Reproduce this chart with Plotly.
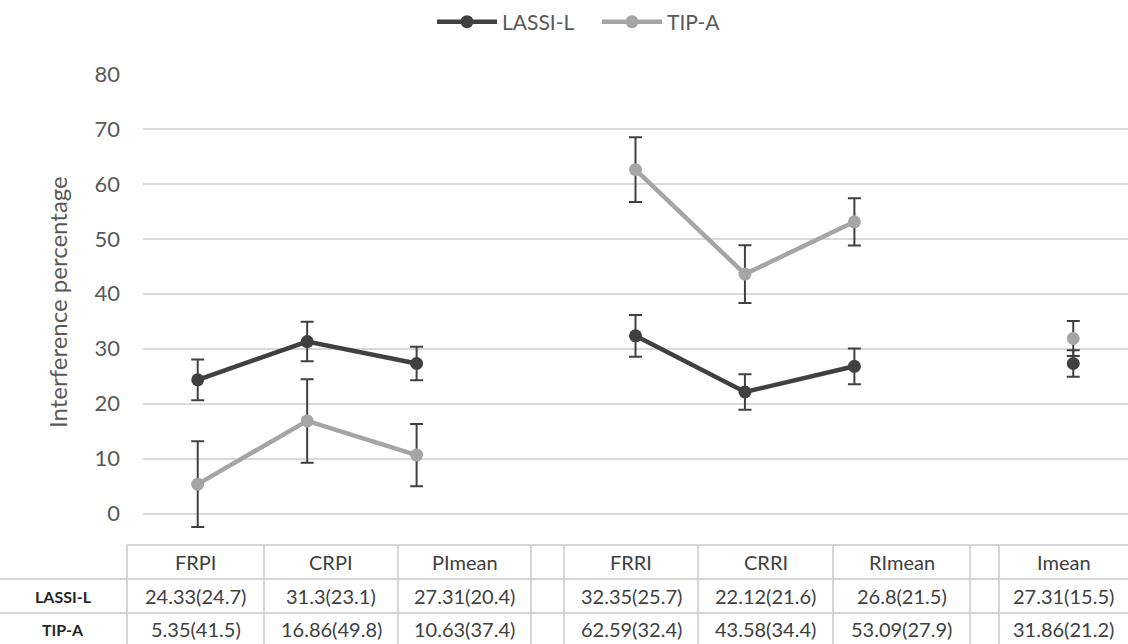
import plotly.graph_objects as go

# ---------------- data ----------------
categories = ["FRPI", "CRPI", "PImean", " ", "FRRI", "CRRI", "RImean", "  ", "Imean"]
series_names = ["LASSI-L", "TIP-A"]
lassi_mean = [24.33, 31.3, 27.31, None, 32.35, 22.12, 26.8, None, 27.31]
lassi_sd = [24.7, 23.1, 20.4, None, 25.7, 21.6, 21.5, None, 15.5]
lassi_err = [3.7, 3.6, 3.05, None, 3.8, 3.25, 3.25, None, 2.4]
tip_mean = [5.35, 16.86, 10.63, None, 62.59, 43.58, 53.09, None, 31.86]
tip_sd = [41.5, 49.8, 37.4, None, 32.4, 34.4, 27.9, None, 21.2]
tip_err = [7.8, 7.6, 5.65, None, 5.9, 5.25, 4.3, None, 3.2]
y_ticks = [0, 10, 20, 30, 40, 50, 60, 70, 80]
y_title = "Interference percentage"

# ---------------- layout constants ----------------
W, H = 1128, 644
L, R, T, B = 143, 1128, 74, 530   # plot area in pixels
PW, PH = R - L, B - T
FONT = "Lato"
DARK = "#404040"
GRAY = "#a5a5a5"
GRID = "#d9d9d9"
TABLE_LINE = "#c8c8c8"
TEXT = "#595959"

table_edges = [127, 264, 398, 531, 564, 698, 833, 970, 999, 1128]
table_rows_y = [545, 579, 613, 644]
row_text_y = [562, 596, 629]
row_label_x = 63


def px_x(px):
    return (px - L) / PW


def px_y(py):
    return (B - py) / PH


def fmt(m, s):
    if m is None:
        return ""
    return f"{m:g}({s:g})"


fig = go.Figure()

for name, ys, errs, color in [
    (series_names[0], lassi_mean, lassi_err, DARK),
    (series_names[1], tip_mean, tip_err, GRAY),
]:
    fig.add_trace(go.Scatter(
        x=categories, y=ys, name=name, mode="lines+markers",
        line=dict(color=color, width=4.5),
        marker=dict(color=color, size=13),
        connectgaps=False,
        error_y=dict(type="data", array=errs, visible=True,
                     color=DARK, thickness=2, width=6.5),
        cliponaxis=False,
    ))

shapes = []
# horizontal table lines
shapes.append(dict(type="line", xref="paper", yref="paper",
                   x0=px_x(table_edges[0]), x1=px_x(W), y0=px_y(table_rows_y[0]), y1=px_y(table_rows_y[0]),
                   line=dict(color=TABLE_LINE, width=1.5)))
for yy in table_rows_y[1:3]:
    shapes.append(dict(type="line", xref="paper", yref="paper",
                       x0=px_x(0), x1=px_x(W), y0=px_y(yy), y1=px_y(yy),
                       line=dict(color=TABLE_LINE, width=1.5)))
# vertical table lines
for xx in table_edges[:-1]:
    shapes.append(dict(type="line", xref="paper", yref="paper",
                       x0=px_x(xx), x1=px_x(xx), y0=px_y(table_rows_y[0]), y1=px_y(H + 2),
                       line=dict(color=TABLE_LINE, width=1.5)))

annotations = []
for i, cat in enumerate(categories):
    cx = (table_edges[i] + table_edges[i + 1]) / 2
    annotations.append(dict(xref="paper", yref="paper", x=px_x(cx), y=px_y(row_text_y[0]),
                            text=cat.strip(), showarrow=False,
                            font=dict(family=FONT, size=20, color=DARK),
                            xanchor="center", yanchor="middle"))
    annotations.append(dict(xref="paper", yref="paper", x=px_x(cx), y=px_y(row_text_y[1]),
                            text=fmt(lassi_mean[i], lassi_sd[i]), showarrow=False,
                            font=dict(family=FONT, size=20, color=DARK),
                            xanchor="center", yanchor="middle"))
    annotations.append(dict(xref="paper", yref="paper", x=px_x(cx), y=px_y(row_text_y[2]),
                            text=fmt(tip_mean[i], tip_sd[i]), showarrow=False,
                            font=dict(family=FONT, size=20, color=DARK),
                            xanchor="center", yanchor="middle"))
for j, nm in enumerate(series_names):
    annotations.append(dict(xref="paper", yref="paper", x=px_x(row_label_x), y=px_y(row_text_y[j + 1]),
                            text=f"<b>{nm}</b>", showarrow=False,
                            font=dict(family=FONT, size=16, color="#262626"),
                            xanchor="center", yanchor="middle"))
# y-axis title
annotations.append(dict(xref="paper", yref="paper", x=px_x(57), y=0.5,
                        text=y_title, textangle=-90, showarrow=False,
                        font=dict(family=FONT, size=24, color=TEXT),
                        xanchor="center", yanchor="middle"))

fig.update_layout(
    width=W, height=H,
    margin=dict(l=L, r=W - R, t=T, b=H - B, autoexpand=False),
    paper_bgcolor="white", plot_bgcolor="white",
    font=dict(family=FONT, color=TEXT),
    showlegend=True,
    legend=dict(orientation="h", x=px_x(432), xanchor="left",
                yref="container", y=1 - 22 / H, yanchor="middle",
                itemwidth=60, entrywidth=90, entrywidthmode="pixels",
                font=dict(family=FONT, size=21, color=TEXT),
                bgcolor="rgba(0,0,0,0)"),
    xaxis=dict(type="category", categoryorder="array", categoryarray=categories,
               range=[-0.5, len(categories) - 0.5], showgrid=False,
               showticklabels=False, ticks="", showline=False, zeroline=False),
    yaxis=dict(range=[-3, 80], tickvals=y_ticks, showgrid=True, gridcolor=GRID,
               gridwidth=1.5, zeroline=False, showline=False,
               ticks="", ticklabelstandoff=22,
               tickfont=dict(family=FONT, size=22, color=TEXT)),
    shapes=shapes,
    annotations=annotations,
)

fig.write_html("out.html", config={"displayModeBar": False},
               post_script="document.body.style.margin='0px';document.body.style.overflow='hidden';")
